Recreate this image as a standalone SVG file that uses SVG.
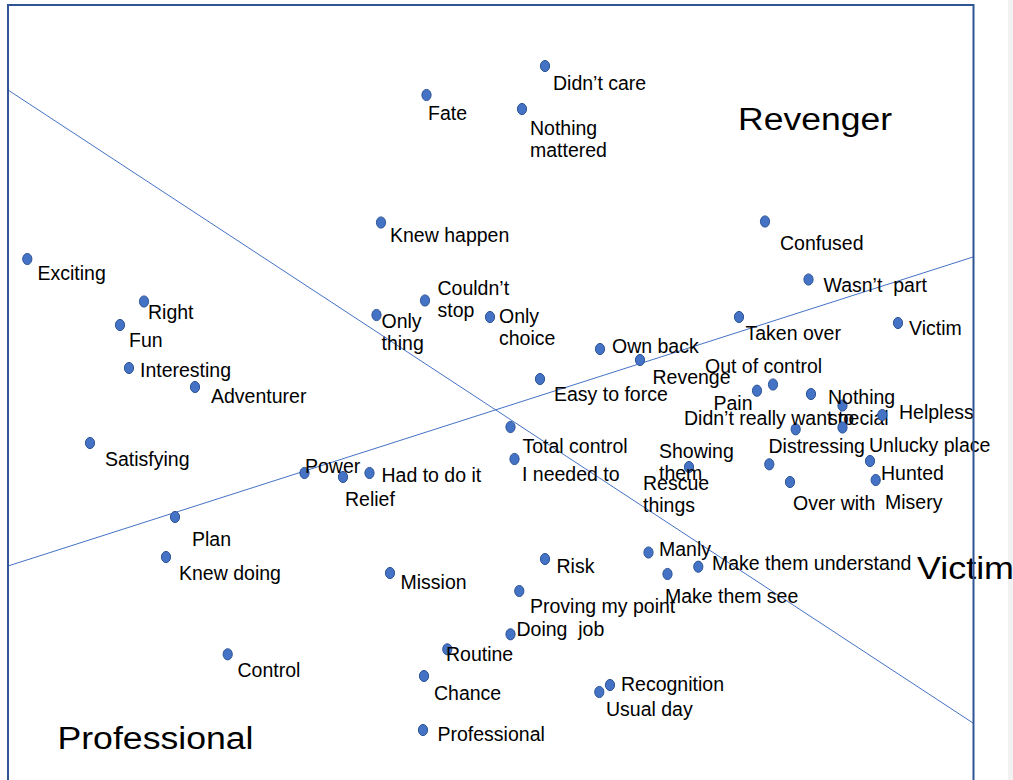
<svg xmlns="http://www.w3.org/2000/svg" width="1013" height="780" viewBox="0 0 1013 780">
  <style>
    .lbl { font-family: "Liberation Sans", Arial, sans-serif; font-size: 19.5px; fill: #000; white-space: pre; }
    .big { font-family: "Liberation Sans", Arial, sans-serif; font-size: 31px; fill: #000; }
    .dot { fill: #4472c4; stroke: #2f5597; stroke-width: 1; }
    .axis { stroke: #4472c4; stroke-width: 1; fill: none; }
    .frame { stroke: #2f5597; stroke-width: 2; fill: none; }
  </style>
  <defs>
    <ellipse id="pt" class="dot" cx="0" cy="0" rx="4.6" ry="5.6"/>
  </defs>

  <rect x="0" y="0" width="1013" height="780" fill="#fff"/>
  <rect x="1008" y="0" width="5" height="780" fill="#f2f2f2"/>

  <!-- dividing lines -->
  <g id="connectors">
    <line class="axis" x1="8" y1="90" x2="973" y2="723"/>
    <line class="axis" x1="8" y1="566" x2="973" y2="257"/>
  </g>

  <!-- region titles -->
  <g id="region-revenger"><text class="big" x="738" y="130" textLength="154" lengthAdjust="spacingAndGlyphs">Revenger</text></g>
  <g id="region-professional"><text class="big" x="57.5" y="748.5" textLength="196" lengthAdjust="spacingAndGlyphs">Professional</text></g>
  <g id="region-victim"><text class="big" x="917" y="578.5" textLength="97" lengthAdjust="spacingAndGlyphs">Victim</text></g>

  <!-- points -->
  <g id="n-didnt-care"><use href="#pt" x="545" y="66"/><text class="lbl" x="553" y="90">Didn’t care</text></g>
  <g id="n-fate"><use href="#pt" x="426.5" y="95"/><text class="lbl" x="428" y="120">Fate</text></g>
  <g id="n-nothing-mattered"><use href="#pt" x="522" y="109"/><text class="lbl" x="530" y="135">Nothing<tspan x="530" y="157">mattered</tspan></text></g>
  <g id="n-knew-happen"><use href="#pt" x="381" y="222.5"/><text class="lbl" x="390" y="242">Knew happen</text></g>
  <g id="n-confused"><use href="#pt" x="765" y="221.5"/><text class="lbl" x="780" y="250">Confused</text></g>
  <g id="n-exciting"><use href="#pt" x="27.3" y="259"/><text class="lbl" x="37.5" y="280">Exciting</text></g>
  <g id="n-right"><use href="#pt" x="144" y="301.5"/><text class="lbl" x="148" y="319">Right</text></g>
  <g id="n-fun"><use href="#pt" x="120" y="325"/><text class="lbl" x="129" y="346.5">Fun</text></g>
  <g id="n-interesting"><use href="#pt" x="129" y="368"/><text class="lbl" x="140" y="377">Interesting</text></g>
  <g id="n-adventurer"><use href="#pt" x="195" y="387"/><text class="lbl" x="211" y="403">Adventurer</text></g>
  <g id="n-satisfying"><use href="#pt" x="90" y="443"/><text class="lbl" x="105" y="466">Satisfying</text></g>
  <g id="n-power"><use href="#pt" x="304.5" y="473"/><text class="lbl" x="305" y="473">Power</text></g>
  <g id="n-relief"><use href="#pt" x="343" y="477"/><text class="lbl" x="345" y="506">Relief</text></g>
  <g id="n-had-to"><use href="#pt" x="369.5" y="473"/><text class="lbl" x="381.5" y="482">Had to do it</text></g>
  <g id="n-couldnt-stop"><use href="#pt" x="425" y="300.5"/><text class="lbl" x="437.5" y="295">Couldn’t<tspan x="437.5" y="317">stop</tspan></text></g>
  <g id="n-only-thing"><use href="#pt" x="376.5" y="315"/><text class="lbl" x="381.5" y="328">Only<tspan x="381.5" y="350">thing</tspan></text></g>
  <g id="n-only-choice"><use href="#pt" x="490" y="317"/><text class="lbl" x="499" y="323">Only<tspan x="499" y="345">choice</tspan></text></g>
  <g id="n-own-back"><use href="#pt" x="600" y="349"/><text class="lbl" x="612" y="352.5">Own back</text></g>
  <g id="n-revenge"><use href="#pt" x="640" y="360"/><text class="lbl" x="652.5" y="384">Revenge</text></g>
  <g id="n-easy-force"><use href="#pt" x="540" y="379"/><text class="lbl" x="554" y="400.5">Easy to force</text></g>
  <g id="n-total-control"><use href="#pt" x="510.5" y="427"/><text class="lbl" x="522.5" y="452.5">Total control</text></g>
  <g id="n-needed-to"><use href="#pt" x="514.5" y="459"/><text class="lbl" x="522" y="481">I needed to</text></g>
  <g id="n-showing-them"><use href="#pt" x="689" y="467"/><text class="lbl" x="659" y="457.5">Showing<tspan x="659" y="479.5">them</tspan></text></g>
  <g id="n-rescue-things"><text class="lbl" x="643" y="489.5">Rescue<tspan x="643" y="512">things</tspan></text></g>
  <g id="n-taken-over"><use href="#pt" x="739" y="317"/><text class="lbl" x="745.5" y="340">Taken over</text></g>
  <g id="n-wasnt-part"><use href="#pt" x="808.5" y="279.5"/><text class="lbl" x="823.5" y="291.5">Wasn’t  part</text></g>
  <g id="n-victim"><use href="#pt" x="898" y="323"/><text class="lbl" x="909" y="335">Victim</text></g>
  <g id="n-out-of-control"><use href="#pt" x="773" y="384.5"/><text class="lbl" x="705" y="372.5">Out of control</text></g>
  <g id="n-pain"><use href="#pt" x="757" y="390.7"/><text class="lbl" x="713.5" y="410">Pain</text></g>
  <g id="n-didnt-want"><use href="#pt" x="795.7" y="429.3"/><text class="lbl" x="684" y="425">Didn’t really want to</text></g>
  <g id="n-nothing-special"><use href="#pt" x="811" y="394"/><use href="#pt" x="842.5" y="405.5"/><text class="lbl" x="828" y="403.5">Nothing<tspan x="828" y="425">special</tspan></text><use href="#pt" x="842.5" y="427.5"/></g>
  <g id="n-helpless"><use href="#pt" x="882.3" y="415"/><text class="lbl" x="899" y="418.5">Helpless</text></g>
  <g id="n-distressing"><use href="#pt" x="769.3" y="464.3"/><text class="lbl" x="768.5" y="452.5">Distressing</text></g>
  <g id="n-unlucky"><use href="#pt" x="870" y="461"/><text class="lbl" x="869" y="452">Unlucky place</text></g>
  <g id="n-hunted"><use href="#pt" x="875.7" y="480"/><text class="lbl" x="881" y="479.5">Hunted</text></g>
  <g id="n-over-with"><use href="#pt" x="790" y="482"/><text class="lbl" x="793" y="510">Over with</text></g>
  <g id="n-misery"><text class="lbl" x="885" y="508.5">Misery</text></g>
  <g id="n-plan"><use href="#pt" x="175" y="517"/><text class="lbl" x="192" y="546">Plan</text></g>
  <g id="n-knew-doing"><use href="#pt" x="166" y="557"/><text class="lbl" x="179" y="579.5">Knew doing</text></g>
  <g id="n-control"><use href="#pt" x="227.7" y="654.3"/><text class="lbl" x="237.5" y="677">Control</text></g>
  <g id="n-mission"><use href="#pt" x="390" y="573"/><text class="lbl" x="400.5" y="588.5">Mission</text></g>
  <g id="n-risk"><use href="#pt" x="545" y="559"/><text class="lbl" x="556.5" y="573">Risk</text></g>
  <g id="n-proving"><use href="#pt" x="519.3" y="591"/><text class="lbl" x="530" y="613">Proving my point</text></g>
  <g id="n-doing-job"><use href="#pt" x="510.5" y="634.3"/><text class="lbl" x="516.5" y="636">Doing  job</text></g>
  <g id="n-routine"><use href="#pt" x="447.3" y="649.3"/><text class="lbl" x="446" y="661">Routine</text></g>
  <g id="n-chance"><use href="#pt" x="424" y="676"/><text class="lbl" x="434" y="700">Chance</text></g>
  <g id="n-professional"><use href="#pt" x="423" y="730"/><text class="lbl" x="437.5" y="741">Professional</text></g>
  <g id="n-recognition"><use href="#pt" x="610" y="685"/><text class="lbl" x="621" y="691">Recognition</text></g>
  <g id="n-usual-day"><use href="#pt" x="599.3" y="692"/><text class="lbl" x="606" y="716">Usual day</text></g>
  <g id="n-manly"><use href="#pt" x="648.5" y="552.5"/><text class="lbl" x="659" y="556">Manly</text></g>
  <g id="n-make-see"><use href="#pt" x="667.5" y="574"/><text class="lbl" x="665" y="603">Make them see</text></g>
  <g id="n-make-understand"><use href="#pt" x="698.3" y="566.7"/><text class="lbl" x="712" y="569.5">Make them understand</text></g>

  <!-- plot frame -->
  <path class="frame" d="M8,780 V5 H973.5 V780"/>
</svg>
